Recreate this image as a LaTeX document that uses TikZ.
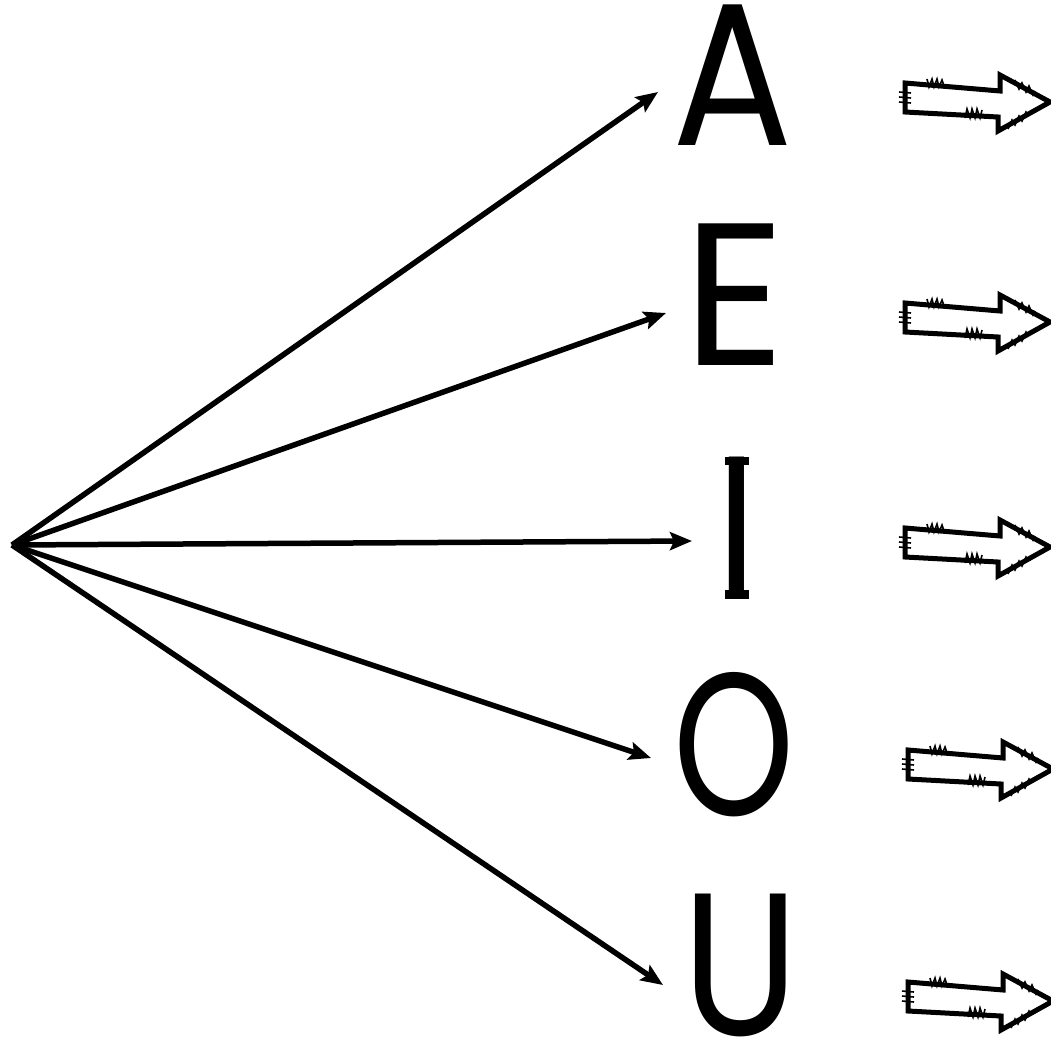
\documentclass[tikz,border=0pt]{standalone}
\usepackage{fontspec}
\newfontfamily\letterfont{Poppins}
\usetikzlibrary{arrows.meta}
\begin{document}
\begin{tikzpicture}[x=1pt,y=-1pt,
  vowel/.style={font=\letterfont\fontsize{203}{203}\selectfont, inner sep=0pt, transform shape},
  fan/.style={line width=5.5pt, -{Stealth[length=22pt,width=18pt,inset=4pt]}},
  blockarrow/.style={line width=5pt, line join=miter, draw=black},
  tick/.style={line width=1.6pt}]
\useasboundingbox (0,0) rectangle (1051,1052);
\node[vowel, xscale=0.88] (A) at (733,75) {A};
\node[vowel, xscale=0.98] (E) at (735,295) {E};
\node[vowel, xscale=0.82] (I) at (737,528) {I};
\node[vowel, xscale=0.76] (O) at (734,745) {O};
\node[vowel, xscale=0.85] (U) at (741,965) {U};
\fill (I.north) ++(-12,0) rectangle ++(24,8);
\fill (I.south) ++(-12,0) rectangle ++(24,-9);
\coordinate (src) at (12,545);
\coordinate (tA) at (658,92);
\coordinate (tE) at (666,313);
\coordinate (tI) at (692,541);
\coordinate (tO) at (651,758);
\coordinate (tU) at (663,985);
\foreach \t in {tA,tE,tI,tO,tU}{\draw[fan] (src) -- (\t);}
\foreach \x/\y/\n in {905/83/1,905/303/2,905/528/3,908/750/4,908/982/5}{
  \begin{scope}[shift={(\x,\y)}]
    \draw[blockarrow] (0,0) coordinate (b\n) -- (95,8) -- (95,-8) -- (145,19) -- (93,48) -- (93,34) -- (0,29) -- cycle;
    \draw[tick] (22,-4) -- (24,4) -- (27,-4) -- (29,4) -- (32,-4) -- (34,4) -- (37,-3) -- (39,3);
    \draw[tick] (60,35) -- (62,26) -- (65,35) -- (67,26) -- (70,35) -- (72,26) -- (75,35) -- (77,27);
    \draw[tick] (-6,9) -- (6,10) (-6,14) -- (6,15) (-6,19) -- (6,20);
    \draw[tick] (110,-3) -- (114,6) -- (117,0) -- (121,9) -- (124,3) -- (128,12) -- (130,8);
    \draw[tick] (103,46) -- (107,37) -- (110,42) -- (114,33) -- (117,38) -- (121,29) -- (124,33);
  \end{scope}
}
\end{tikzpicture}
\end{document}
